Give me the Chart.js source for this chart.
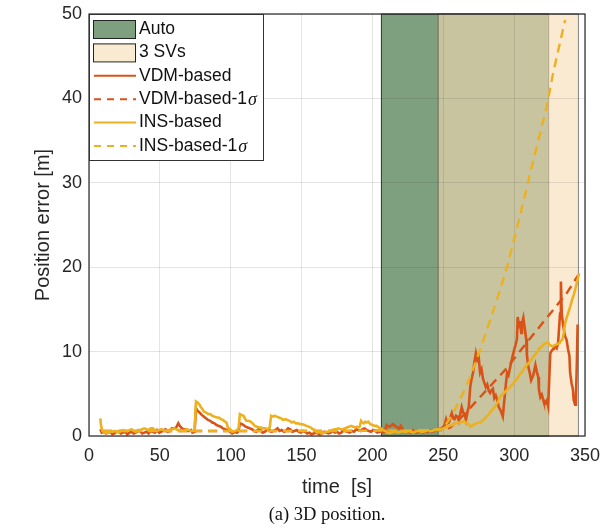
<!DOCTYPE html>
<html>
<head>
  <meta charset="UTF-8">
  <title>Position error</title>
  <script src="https://cdn.jsdelivr.net/npm/chart.js"></script>
  <style>
    body { margin: 0; background: #fff; }
    #wrap { position: relative; width: 603px; height: 532px; }
    #caption {
      position: absolute; left: 177px; top: 503px; width: 300px;
      text-align: center; font: 18.5px "Liberation Serif", "Times New Roman", serif; color: #111;
      line-height: 22px;
    }
  </style>
</head>
<body>
<div id="wrap">
  <canvas id="chart" width="603" height="532"></canvas>
  <div id="caption">(a) 3D position.</div>
</div>
<script>
// time [s] / 3D error [m]
const vdmTime = [8, 9, 10.5, 12, 13.5, 15, 16.5, 18, 19.5, 21, 22.5, 24, 25.5, 27, 28.5, 30, 31.5, 33, 34.5, 36, 37.5,
  39, 40.5, 42, 43.5, 45, 46.5, 48, 49.5, 51, 52.5, 54, 55.5, 57, 58.5, 60, 61.5, 63, 64, 65, 66.5, 68, 69.5, 71, 72,
  73, 74.5, 75.5, 76.5, 78, 79.5, 81, 82.5, 84, 85.5, 87, 88.5, 90, 91.5, 93, 94.5, 96, 97.5, 99, 101, 103, 104.5,
  105.5, 106.5, 108, 109, 110.5, 112, 113.5, 115, 116.5, 118, 119.5, 121, 122.5, 124, 125.5, 127, 128.5, 130, 131.5,
  133, 134.5, 136, 137.5, 139, 140.5, 142, 143.5, 145, 146.5, 148, 149.5, 151, 152.5, 154, 155.5, 157, 158.5, 160,
  161.5, 163, 164.5, 166, 167.5, 169, 170.5, 172, 173.5, 175, 176.5, 178, 179.5, 181, 182.5, 184, 185.5, 187, 188.5,
  190, 191.5, 193, 194.5, 196, 197.5, 199, 200.5, 202, 203.5, 205, 206, 207, 208.5, 210, 211.5, 213, 214.5, 216, 217.5,
  219, 220, 221, 222.5, 224, 225.5, 227, 228.5, 230, 231.5, 233, 234.5, 236, 237.5, 239, 240.5, 242, 243.5, 245, 247,
  248.5, 250, 251, 252, 253, 254, 255, 256, 257, 258, 259, 260, 261, 262, 263, 264, 265, 266, 267, 268, 269, 270, 271,
  272, 273, 274, 275, 276, 277, 278, 279, 280, 281, 282, 283, 284, 285, 286, 287, 288, 289, 290.5, 292, 293.5, 295,
  296, 297, 298, 299, 300, 301, 302, 302.5, 303.5, 304, 305, 305.5, 306.5, 307.7, 308.5, 309, 310, 311, 312, 313.5,
  314.5, 315, 316, 317, 317.5, 318.5, 319.5, 320.5, 321, 322, 323, 324, 324.6, 325.5, 326.5, 327.5, 328, 329, 330, 331,
  332.4, 333, 333.6, 334.5, 335.5, 336, 337, 338, 339, 339.5, 340.6, 341.5, 342, 343, 343.6, 344.3, 344.8, 345];
const vdmErr = [0.8, 0.4, 0.5, 0.3, 0.4, 0.5, 0.2, 0.3, 0.5, 0.5, 0.3, 0.4, 0.5, 0.2, 0.4, 0.5, 0.3, 0.4, 0.6, 0.6, 0.3,
  0.4, 0.5, 0.3, 0.6, 0.5, 0.4, 0.7, 0.4, 0.5, 0.7, 0.8, 0.5, 0.6, 0.9, 0.9, 1.0, 1.5, 1.2, 1.0, 0.8, 0.8, 0.6, 0.6,
  0.7, 0.4, 0.5, 3.3, 3.0, 2.8, 2.5, 2.3, 2.1, 1.9, 1.8, 1.6, 1.5, 1.3, 1.2, 1.1, 0.9, 0.8, 0.7, 0.6, 0.3, 0.5, 0.4,
  0.6, 1.5, 1.4, 1.3, 1.1, 1.0, 0.9, 0.8, 0.6, 0.5, 0.8, 0.7, 0.4, 0.5, 0.7, 0.8, 0.5, 0.6, 0.7, 0.9, 0.6, 0.7, 0.5,
  0.6, 0.9, 0.8, 0.5, 0.6, 0.7, 0.5, 0.4, 0.6, 0.5, 0.3, 0.4, 0.2, 0.3, 0.4, 0.3, 0.2, 0.3, 0.5, 0.4, 0.3, 0.4, 0.6,
  0.4, 0.5, 0.3, 0.4, 0.7, 0.6, 0.5, 0.4, 0.6, 0.5, 0.8, 0.7, 0.6, 0.8, 0.9, 0.7, 0.6, 0.5, 0.7, 0.6, 0.4, 0.5, 0.6,
  0.4, 0.5, 1.3, 1.1, 1.2, 1.4, 1.2, 1.0, 0.9, 1.2, 0.9, 0.6, 0.5, 0.6, 0.4, 0.7, 0.5, 0.4, 0.6, 0.5, 0.4, 0.6, 0.5,
  0.7, 0.5, 0.6, 0.7, 0.8, 0.9, 1.1, 1.3, 2.0, 1.5, 1.6, 2.2, 2.7, 2.1, 2.0, 2.4, 2.3, 1.8, 2.6, 3.4, 2.8, 2.6, 1.9,
  2.8, 3.5, 5.8, 6.8, 7.5, 8.8, 9.8, 9.0, 9.3, 7.5, 7.9, 6.8, 6.3, 5.8, 6.1, 5.4, 5.1, 5.4, 5.6, 4.5, 4.8, 4.3, 3.5,
  3.0, 2.3, 5.0, 7.5, 7.2, 8.0, 8.8, 9.5, 10.2, 10.8, 11.5, 14.1, 12.9, 13.6, 12.2, 13.3, 14.0, 12.5, 11.5, 9.6, 8.2,
  7.5, 6.6, 7.2, 8.0, 8.4, 7.6, 7.0, 5.5, 4.6, 4.9, 4.3, 4.0, 3.9, 4.2, 3.5, 6.0, 9.8, 10.1, 10.3, 10.5, 10.6, 10.4,
  11.0, 14.5, 18.3, 14.5, 13.2, 12.2, 11.8, 11.4, 10.3, 9.5, 7.5, 6.2, 5.5, 4.3, 3.7, 4.5, 9.0, 13.2];

const insTime = [8, 8.5, 9.5, 11, 12, 13.5, 15, 16.5, 18, 19.5, 21, 22.5, 24, 25.5, 27, 28.5, 30, 31.5, 33, 34.5, 36,
  37.5, 39, 40.5, 42, 43.5, 45, 46.5, 48, 49.5, 51, 52.5, 54, 55.5, 57, 58.5, 60, 61.5, 63, 64.5, 66, 67.5, 69, 70.5,
  72, 73.5, 74.5, 75.5, 76.5, 77, 78, 79, 80, 81, 82.5, 84, 85.5, 87, 88.5, 90, 91.5, 93, 94.5, 96, 97, 98, 99.5, 101,
  103, 104.5, 105.5, 106.5, 107.5, 109, 110, 111, 112.5, 114, 115.5, 117, 118.5, 120, 121.5, 123, 124.5, 126, 127.5,
  128.5, 130, 131, 132.5, 134, 135.5, 137, 138.5, 140, 141.5, 143, 144.5, 146, 147.5, 149, 150.5, 152, 153.5, 155,
  156.5, 158, 159.5, 161, 162.5, 164, 165.5, 167, 168.5, 170, 171.5, 173, 174.5, 176, 177.5, 179, 180.5, 182, 183.5,
  185, 186.5, 188, 189, 190, 191, 192, 193, 194, 195, 196, 197, 198.5, 200, 201.5, 203, 204.5, 206, 207.5, 209, 210.5,
  212, 213.5, 215, 216.5, 218, 219.5, 221, 222.5, 224, 225.5, 227, 228.5, 230, 231.5, 233, 234.5, 236, 237.5, 239,
  240.5, 242, 243.5, 245, 246.5, 248, 250, 251.5, 253, 254.5, 256, 257.5, 259, 260.5, 262, 263.5, 265, 266, 267, 268,
  269, 270, 271, 272, 273.5, 275, 276.5, 278, 279.5, 281, 282, 283, 284.5, 286, 287, 288, 289, 290, 291.5, 293, 294.5,
  296, 297.5, 299, 300, 301, 302.5, 304, 305.5, 307, 309, 311, 312.5, 314, 316, 318, 319.5, 321, 322.5, 324, 325, 326,
  327, 328, 329, 330.5, 332, 333, 334, 335, 336, 337, 338, 339.5, 341, 342, 343, 344.5, 345.8];
const insErr = [2.1, 1.2, 0.6, 0.4, 0.3, 0.4, 0.5, 0.5, 0.6, 0.5, 0.4, 0.6, 0.7, 0.6, 0.6, 0.7, 0.8, 0.6, 0.5, 0.7, 0.7,
  0.8, 0.9, 0.8, 0.7, 0.9, 0.9, 0.7, 0.6, 0.7, 0.8, 0.7, 0.6, 0.7, 0.7, 0.8, 0.9, 0.8, 0.7, 0.7, 0.6, 0.7, 0.8, 0.7,
  0.6, 0.6, 0.7, 4.1, 4.0, 3.9, 3.7, 3.4, 3.2, 2.9, 2.8, 2.6, 2.6, 2.4, 2.3, 2.2, 2.2, 2.0, 1.9, 1.7, 1.6, 1.0, 0.8,
  0.5, 0.6, 0.7, 0.9, 2.6, 2.5, 2.4, 2.1, 1.8, 1.8, 1.7, 1.5, 1.2, 1.1, 1.0, 1.0, 0.9, 0.9, 0.8, 1.0, 2.4, 2.3, 2.4,
  2.3, 2.2, 2.1, 1.9, 2.0, 1.9, 1.8, 1.6, 1.7, 1.5, 1.5, 1.4, 1.4, 1.3, 1.2, 1.1, 1.0, 0.8, 0.7, 0.4, 0.5, 0.3, 0.4,
  0.5, 0.5, 0.6, 0.7, 0.8, 0.8, 0.9, 0.8, 0.8, 0.9, 1.0, 1.1, 1.2, 1.1, 1.0, 1.1, 1.0, 1.1, 1.8, 1.6, 1.5, 1.7, 1.6,
  1.7, 1.4, 1.3, 1.2, 1.2, 1.0, 0.9, 0.7, 0.6, 0.4, 0.3, 0.4, 0.5, 0.5, 0.4, 0.5, 0.6, 0.5, 0.5, 0.6, 0.5, 0.4, 0.5,
  0.6, 0.6, 0.5, 0.5, 0.6, 0.7, 0.6, 0.6, 0.7, 0.8, 0.8, 0.8, 0.9, 1.0, 1.1, 1.2, 1.3, 1.4, 1.5, 1.6, 1.6, 1.7, 1.7,
  1.6, 1.5, 1.4, 1.1, 1.2, 1.3, 1.4, 1.5, 1.6, 1.6, 1.9, 2.1, 2.4, 2.5, 2.8, 3.1, 3.4, 3.6, 3.9, 4.2, 4.6, 4.9, 5.1,
  5.4, 5.6, 5.9, 6.1, 6.4, 6.6, 6.9, 7.3, 7.6, 8.0, 8.4, 8.8, 9.1, 9.5, 9.9, 10.4, 10.6, 10.9, 11.0, 11.1, 10.8,
  10.7, 10.6, 10.7, 10.8, 10.9, 11.0, 11.3, 11.4, 12.2, 13.4, 14.0, 14.5, 15.3, 16.2, 16.7, 17.3, 18.3, 19.3];

const vdmSigmaTime = [10, 60, 120, 180, 250, 255, 265, 277, 293.5, 307.7, 323, 337, 345];
const vdmSigma = [0.6, 0.6, 0.6, 0.6, 0.7, 1.0, 2.6, 4.8, 7.8, 10.8, 14.0, 16.9, 19.0];
const insSigmaTime = [10, 60, 120, 180, 248, 252, 257, 264, 269, 276, 283, 290, 295, 304, 313, 323, 327.5, 336];
const insSigma = [0.6, 0.6, 0.6, 0.6, 0.7, 1.4, 2.7, 5.1, 7.0, 10.2, 13.7, 17.3, 20.0, 26.0, 32.3, 39.0, 43.0, 49.3];

// shaded modes [start, end] in s
const autoSpan = [206, 324];
const svSpan = [246, 345];

const xRange = [0, 350];
const yRange = [0, 50];

const ORANGE = '#D95319';
const YELLOW = '#EDB120';
const AUTO_FILL = 'rgb(127,160,127)';
const SV_FILL = 'rgba(247,220,180,0.6)';
const SANS = "'Liberation Sans', Arial, Helvetica, sans-serif";

function pts(xs, ys) {
  return xs.map((x, i) => ({ x: x, y: ys[i] }));
}

// patches under the grid
const patchPlugin = {
  id: 'patches',
  beforeDraw(chart) {
    const { ctx, scales } = chart;
    const yt = scales.y.getPixelForValue(yRange[1]);
    const yb = scales.y.getPixelForValue(yRange[0]);
    ctx.save();
    let a = scales.x.getPixelForValue(autoSpan[0]);
    let b = scales.x.getPixelForValue(autoSpan[1]);
    ctx.fillStyle = AUTO_FILL;
    ctx.fillRect(a, yt, b - a, yb - yt);
    ctx.strokeStyle = 'rgba(30,40,30,0.8)';
    ctx.lineWidth = 1;
    ctx.strokeRect(a + 0.5, yt, b - a, yb - yt);
    a = scales.x.getPixelForValue(svSpan[0]);
    b = scales.x.getPixelForValue(svSpan[1]);
    ctx.fillStyle = SV_FILL;
    ctx.fillRect(a, yt, b - a, yb - yt);
    ctx.strokeStyle = 'rgba(0,0,0,0.5)';
    ctx.strokeRect(a + 0.5, yt, b - a, yb - yt);
    ctx.restore();
  }
};

// axes box + legend on top
const boxLegendPlugin = {
  id: 'boxLegend',
  afterDraw(chart) {
    const { ctx, chartArea } = chart;
    ctx.save();
    ctx.strokeStyle = '#262626';
    ctx.lineWidth = 1.2;
    ctx.strokeRect(chartArea.left, chartArea.top, chartArea.right - chartArea.left, chartArea.bottom - chartArea.top);

    const L = chartArea.left, T = chartArea.top;
    const W = 174, H = 146;
    ctx.fillStyle = '#fff';
    ctx.fillRect(L, T, W, H);
    ctx.strokeStyle = '#333';
    ctx.lineWidth = 1;
    ctx.strokeRect(L + 0.5, T + 0.5, W, H);

    const items = [
      { label: 'Auto', fill: AUTO_FILL },
      { label: '3 SVs', fill: 'rgb(250,234,210)' },
      { label: 'VDM-based', color: ORANGE },
      { label: 'VDM-based-1', sigma: true, color: ORANGE, dash: [7, 6] },
      { label: 'INS-based', color: YELLOW },
      { label: 'INS-based-1', sigma: true, color: YELLOW, dash: [7, 6] }
    ];
    items.forEach((it, i) => {
      const cy = T + 15 + i * 23.4;
      if (it.fill) {
        ctx.fillStyle = it.fill;
        ctx.fillRect(L + 4, cy - 9, 42, 18);
        ctx.strokeStyle = '#222';
        ctx.lineWidth = 1;
        ctx.strokeRect(L + 4.5, cy - 8.5, 42, 18);
      } else {
        ctx.strokeStyle = it.color;
        ctx.lineWidth = 2;
        ctx.setLineDash(it.dash || []);
        ctx.beginPath();
        ctx.moveTo(L + 5, cy);
        ctx.lineTo(L + 47, cy);
        ctx.stroke();
        ctx.setLineDash([]);
      }
      ctx.fillStyle = '#111';
      ctx.textBaseline = 'middle';
      ctx.textAlign = 'left';
      ctx.font = '17.5px ' + SANS;
      ctx.fillText(it.label, L + 50, cy);
      if (it.sigma) {
        const w = ctx.measureText(it.label).width;
        ctx.font = 'italic 18px "Liberation Serif", "Times New Roman", serif';
        ctx.fillText('\u03c3', L + 50 + w + 1, cy + 1);
      }
    });
    ctx.restore();
  }
};

new Chart(document.getElementById('chart'), {
  type: 'line',
  data: {
    datasets: [
      { label: 'VDM-based', data: pts(vdmTime, vdmErr), borderColor: ORANGE, borderWidth: 2.6, order: 3 },
      { label: 'VDM-based-1σ', data: pts(vdmSigmaTime, vdmSigma), borderColor: ORANGE, borderWidth: 2.4, borderDash: [9, 6], order: 2 },
      { label: 'INS-based', data: pts(insTime, insErr), borderColor: YELLOW, borderWidth: 2.6, order: 1 },
      { label: 'INS-based-1σ', data: pts(insSigmaTime, insSigma), borderColor: YELLOW, borderWidth: 2.4, borderDash: [9, 6], order: 0 }
    ]
  },
  options: {
    responsive: false,
    animation: false,
    layout: { padding: { left: 0, right: 18, top: 14, bottom: 0 } },
    elements: { point: { radius: 0 }, line: { tension: 0, fill: false } },
    plugins: { legend: { display: false }, tooltip: { enabled: false } },
    scales: {
      x: {
        type: 'linear',
        min: xRange[0], max: xRange[1],
        afterFit(scale) { scale.height = 96; scale.paddingLeft = 0; scale.paddingRight = 0; },
        grid: { color: 'rgba(38,38,38,0.12)', drawTicks: false },
        border: { display: false },
        ticks: { stepSize: 50, padding: 9, color: '#262626', font: { family: SANS, size: 18 } },
        title: { display: true, text: 'time  [s]', color: '#262626', font: { family: SANS, size: 20 }, padding: { bottom: 33 } }
      },
      y: {
        min: yRange[0], max: yRange[1],
        afterFit(scale) { scale.width = 89; scale.paddingTop = 0; scale.paddingBottom = 0; },
        grid: { color: 'rgba(38,38,38,0.12)', drawTicks: false },
        border: { display: false },
        ticks: { stepSize: 10, padding: 7, color: '#262626', font: { family: SANS, size: 18 } },
        title: { display: true, text: 'Position error [m]', color: '#262626', font: { family: SANS, size: 20 }, padding: { top: 31 } }
      }
    }
  },
  plugins: [patchPlugin, boxLegendPlugin]
});
</script>
</body>
</html>
